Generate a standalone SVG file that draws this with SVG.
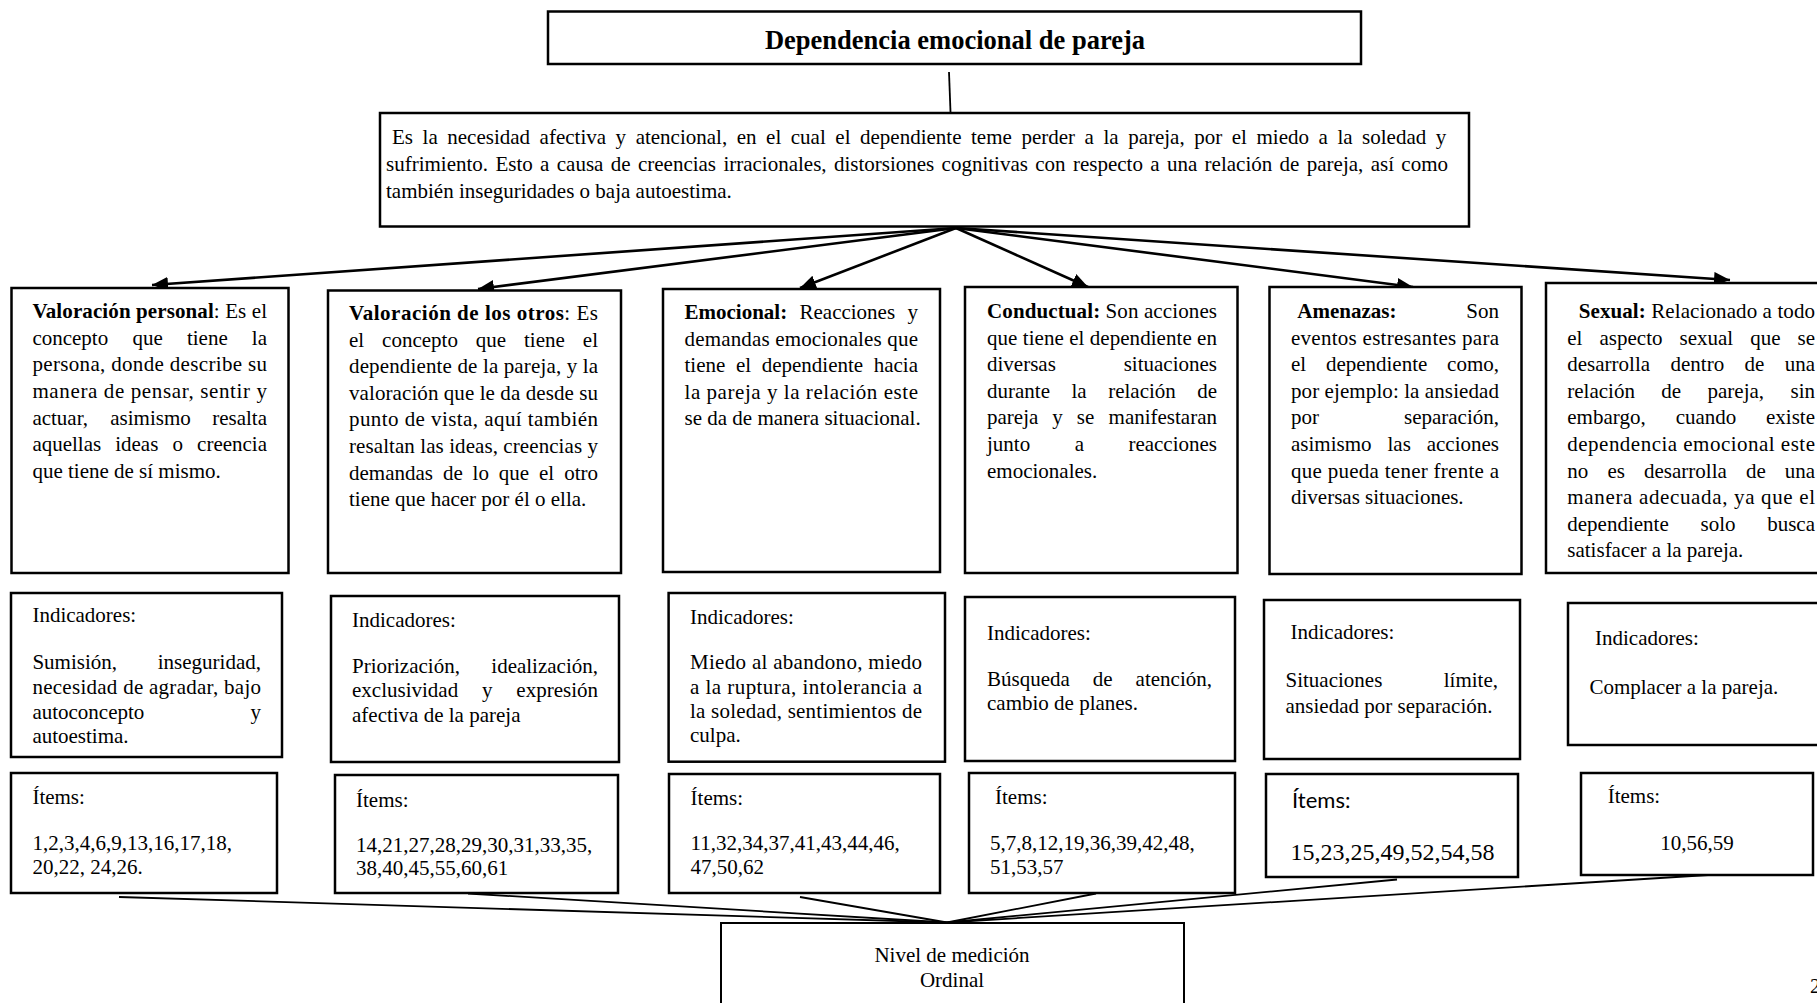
<svg xmlns="http://www.w3.org/2000/svg" width="1817" height="1003" viewBox="0 0 1817 1003">
<style>
text{font-family:"Liberation Serif","Times New Roman",serif;font-size:21px;fill:#000}
.b{font-weight:bold}
.e{text-anchor:end}
.m{text-anchor:middle}
.box{fill:#fff;stroke:#000;stroke-width:2.5}
.arr{stroke:#000;stroke-width:2.6;fill:none}
.ln{stroke:#000;stroke-width:1.8;fill:none}
</style>
<defs>
<marker id="ah" markerUnits="userSpaceOnUse" markerWidth="18" markerHeight="14" refX="16" refY="7" orient="auto">
<path d="M0,0 L16,7 L0,14 Z" fill="#000"/>
</marker>
</defs>
<rect width="1817" height="1003" fill="#fff"/>

<g id="connectors">
<line class="ln" x1="949" y1="72" x2="950.5" y2="112"/>
<line class="arr" x1="956" y1="228" x2="152" y2="285" marker-end="url(#ah)"/>
<line class="arr" x1="956" y1="228" x2="478" y2="289" marker-end="url(#ah)"/>
<line class="arr" x1="956" y1="228" x2="800" y2="288" marker-end="url(#ah)"/>
<line class="arr" x1="956" y1="228" x2="1088" y2="287" marker-end="url(#ah)"/>
<line class="arr" x1="956" y1="228" x2="1413" y2="287" marker-end="url(#ah)"/>
<line class="arr" x1="956" y1="228" x2="1730" y2="280" marker-end="url(#ah)"/>
<line class="ln" x1="119" y1="897" x2="947" y2="922.5"/>
<line class="ln" x1="468" y1="893.5" x2="947" y2="922.5"/>
<line class="ln" x1="800" y1="897" x2="947" y2="922.5"/>
<line class="ln" x1="1096" y1="893.5" x2="947" y2="922.5"/>
<line class="ln" x1="1397" y1="879.5" x2="947" y2="922.5"/>
<line class="ln" x1="1716" y1="874.5" x2="947" y2="922.5"/>
</g>

<g id="title">
<rect class="box" x="548" y="11.5" width="813" height="52.5"/>
<text class="b m" x="955" y="49" style="font-size:26.5px">Dependencia emocional de pareja</text>
</g>

<g id="definicion">
<rect class="box" x="380" y="113" width="1089" height="113.5"/>
<text x="392" y="144" word-spacing="4.3">Es la necesidad afectiva y atencional, en el cual el dependiente teme perder a la pareja, por el miedo a la soledad y</text>
<text x="386" y="171" word-spacing="2.1">sufrimiento. Esto a causa de creencias irracionales, distorsiones cognitivas con respecto a una relación de pareja, así como</text>
<text x="386" y="198">también inseguridades o baja autoestima.</text>
</g>

<g id="valoracion-personal">
<rect class="box" x="11.5" y="288" width="277" height="285"/>
<text x="32.4" y="318" textLength="234.6" lengthAdjust="spacing"><tspan class="b">Valoración personal</tspan>: Es el</text>
<text y="344.7"><tspan x="32.4">concepto</tspan><tspan x="132.4">que</tspan><tspan x="186.9">tiene</tspan></text><text class="e" x="267" y="344.7">la</text>
<text x="32.4" y="371.3" textLength="234.6" lengthAdjust="spacing">persona, donde describe su</text>
<text x="32.4" y="398" textLength="234.6" lengthAdjust="spacing">manera de pensar, sentir y</text>
<text y="424.7"><tspan x="32.4">actuar,</tspan><tspan x="110.3">asimismo</tspan></text><text class="e" x="267" y="424.7">resalta</text>
<text y="451.3"><tspan x="32.4">aquellas</tspan><tspan x="115.2">ideas</tspan><tspan x="172.4">o</tspan></text><text class="e" x="267" y="451.3">creencia</text>
<text x="32.4" y="478">que tiene de sí mismo.</text>
</g>

<g id="valoracion-otros">
<rect class="box" x="328" y="290.5" width="293" height="282.5"/>
<text x="349" y="320" textLength="249" lengthAdjust="spacing"><tspan class="b">Valoración de los otros</tspan>: Es</text>
<text y="346.6"><tspan x="349">el</tspan><tspan x="382.1">concepto</tspan><tspan x="475.8">que</tspan><tspan x="524">tiene</tspan></text><text class="e" x="598" y="346.6">el</text>
<text x="349" y="373.2" textLength="249" lengthAdjust="spacing">dependiente de la pareja, y la</text>
<text x="349" y="399.8" textLength="249" lengthAdjust="spacing">valoración que le da desde su</text>
<text x="349" y="426.4" textLength="249" lengthAdjust="spacing">punto de vista, aquí también</text>
<text x="349" y="453" textLength="249" lengthAdjust="spacing">resaltan las ideas, creencias y</text>
<text y="479.6"><tspan x="349">demandas</tspan><tspan x="442.9">de</tspan><tspan x="472.6">lo</tspan><tspan x="498.8">que</tspan><tspan x="539">el</tspan></text><text class="e" x="598" y="479.6">otro</text>
<text x="349" y="506.2">tiene que hacer por él o ella.</text>
</g>

<g id="emocional">
<rect class="box" x="663" y="289" width="277" height="283"/>
<text y="319"><tspan class="b" x="684.5">Emocional:</tspan><tspan x="799.5">Reacciones</tspan></text><text class="e" x="918" y="319">y</text>
<text x="684.5" y="345.6" textLength="233.5" lengthAdjust="spacing">demandas emocionales que</text>
<text y="372.2"><tspan x="684.5">tiene</tspan><tspan x="735.9">el</tspan><tspan x="761.7">dependiente</tspan></text><text class="e" x="918" y="372.2">hacia</text>
<text x="684.5" y="398.8" textLength="233.5" lengthAdjust="spacing">la pareja y la relación este</text>
<text x="684.5" y="425.4">se da de manera situacional.</text>
</g>

<g id="conductual">
<rect class="box" x="965" y="287" width="272.5" height="286"/>
<text x="987" y="318" textLength="230" lengthAdjust="spacing"><tspan class="b">Conductual:</tspan> Son acciones</text>
<text x="987" y="344.6" textLength="230" lengthAdjust="spacing">que tiene el dependiente en</text>
<text x="987" y="371.2">diversas</text><text class="e" x="1217" y="371.2">situaciones</text>
<text y="397.8"><tspan x="987">durante</tspan><tspan x="1071.5">la</tspan><tspan x="1108.2">relación</tspan></text><text class="e" x="1217" y="397.8">de</text>
<text y="424.4"><tspan x="987">pareja</tspan><tspan x="1052.3">y</tspan><tspan x="1076.8">se</tspan></text><text class="e" x="1217" y="424.4">manifestaran</text>
<text y="451"><tspan x="987">junto</tspan><tspan x="1074.7">a</tspan></text><text class="e" x="1217" y="451">reacciones</text>
<text x="987" y="477.6">emocionales.</text>
</g>

<g id="amenazas">
<rect class="box" x="1269.5" y="287" width="252" height="287"/>
<text class="b" x="1297.3" y="318">Amenazas:</text><text class="e" x="1499" y="318">Son</text>
<text x="1291" y="344.6" textLength="208" lengthAdjust="spacing">eventos estresantes para</text>
<text y="371.2"><tspan x="1291">el</tspan><tspan x="1325.9">dependiente</tspan></text><text class="e" x="1499" y="371.2">como,</text>
<text x="1291" y="397.8" textLength="208" lengthAdjust="spacing">por ejemplo: la ansiedad</text>
<text x="1291" y="424.4">por</text><text class="e" x="1499" y="424.4">separación,</text>
<text y="451"><tspan x="1291">asimismo</tspan><tspan x="1387.5">las</tspan></text><text class="e" x="1499" y="451">acciones</text>
<text x="1291" y="477.6" textLength="208" lengthAdjust="spacing">que pueda tener frente a</text>
<text x="1291" y="504.2">diversas situaciones.</text>
</g>

<g id="sexual">
<rect class="box" x="1546" y="283" width="290" height="290"/>
<text x="1578.7" y="318" textLength="236.3" lengthAdjust="spacing"><tspan class="b">Sexual:</tspan> Relacionado a todo</text>
<text y="344.6"><tspan x="1567.3">el</tspan><tspan x="1599.5">aspecto</tspan><tspan x="1679.5">sexual</tspan><tspan x="1750.2">que</tspan></text><text class="e" x="1815" y="344.6">se</text>
<text y="371.2"><tspan x="1567.3">desarrolla</tspan><tspan x="1670.5">dentro</tspan><tspan x="1744.6">de</tspan></text><text class="e" x="1815" y="371.2">una</text>
<text y="397.8"><tspan x="1567.3">relación</tspan><tspan x="1661.3">de</tspan><tspan x="1707.5">pareja,</tspan></text><text class="e" x="1815" y="397.8">sin</text>
<text y="424.4"><tspan x="1567.3">embargo,</tspan><tspan x="1675.7">cuando</tspan></text><text class="e" x="1815" y="424.4">existe</text>
<text x="1567.3" y="451" textLength="247.7" lengthAdjust="spacing">dependencia emocional este</text>
<text y="477.6"><tspan x="1567.3">no</tspan><tspan x="1607.4">es</tspan><tspan x="1644">desarrolla</tspan><tspan x="1745.9">de</tspan></text><text class="e" x="1815" y="477.6">una</text>
<text x="1567.3" y="504.2" textLength="247.7" lengthAdjust="spacing">manera adecuada, ya que el</text>
<text y="530.8"><tspan x="1567.3">dependiente</tspan><tspan x="1700.5">solo</tspan></text><text class="e" x="1815" y="530.8">busca</text>
<text x="1567.3" y="557.4">satisfacer a la pareja.</text>
</g>

<g id="indicadores-1">
<rect class="box" x="11" y="593" width="271" height="164"/>
<text x="32.4" y="622">Indicadores:</text>
<text x="32.4" y="668.7">Sumisión,</text><text class="e" x="261" y="668.7">inseguridad,</text>
<text x="32.4" y="693.7" textLength="228.6" lengthAdjust="spacing">necesidad de agradar, bajo</text>
<text x="32.4" y="718.7">autoconcepto</text><text class="e" x="261" y="718.7">y</text>
<text x="32.4" y="743">autoestima.</text>
</g>

<g id="indicadores-2">
<rect class="box" x="331" y="596" width="288" height="166"/>
<text x="352" y="627">Indicadores:</text>
<text x="352" y="673">Priorización,</text><text class="e" x="598" y="673">idealización,</text>
<text y="697"><tspan x="352">exclusividad</tspan><tspan x="482">y</tspan></text><text class="e" x="598" y="697">expresión</text>
<text x="352" y="722">afectiva de la pareja</text>
</g>

<g id="indicadores-3">
<rect class="box" x="668.6" y="593" width="276.4" height="168.7"/>
<text x="690" y="623.7">Indicadores:</text>
<text x="690" y="668.7" textLength="232" lengthAdjust="spacing">Miedo al abandono, miedo</text>
<text x="690" y="693.7" textLength="232" lengthAdjust="spacing">a la ruptura, intolerancia a</text>
<text x="690" y="718" textLength="232" lengthAdjust="spacing">la soledad, sentimientos de</text>
<text x="690" y="742">culpa.</text>
</g>

<g id="indicadores-4">
<rect class="box" x="965" y="597" width="270" height="164"/>
<text x="987" y="639.7">Indicadores:</text>
<text y="686"><tspan x="987">Búsqueda</tspan><tspan x="1092.8">de</tspan></text><text class="e" x="1212" y="686">atención,</text>
<text x="987" y="710">cambio de planes.</text>
</g>

<g id="indicadores-5">
<rect class="box" x="1264" y="600" width="256" height="159"/>
<text x="1290.5" y="638.7">Indicadores:</text>
<text x="1285.5" y="687">Situaciones</text><text class="e" x="1498" y="687">límite,</text>
<text x="1285.5" y="713">ansiedad por separación.</text>
</g>

<g id="indicadores-6">
<rect class="box" x="1568" y="603" width="260" height="142"/>
<text x="1595" y="645">Indicadores:</text>
<text x="1589.4" y="694">Complacer a la pareja.</text>
</g>

<g id="items-1">
<rect class="box" x="11" y="773" width="266" height="120"/>
<text x="32.4" y="803.7">Ítems:</text>
<text x="32.4" y="850">1,2,3,4,6,9,13,16,17,18,</text>
<text x="32.4" y="873.7">20,22, 24,26.</text>
</g>

<g id="items-2">
<rect class="box" x="335" y="775" width="283" height="118"/>
<text x="356" y="807">Ítems:</text>
<text x="356" y="852">14,21,27,28,29,30,31,33,35,</text>
<text x="356" y="875">38,40,45,55,60,61</text>
</g>

<g id="items-3">
<rect class="box" x="669" y="774" width="271" height="119"/>
<text x="690.6" y="805">Ítems:</text>
<text x="690.6" y="850">11,32,34,37,41,43,44,46,</text>
<text x="690.6" y="874">47,50,62</text>
</g>

<g id="items-4">
<rect class="box" x="969" y="773" width="266" height="120"/>
<text x="995" y="804">Ítems:</text>
<text x="990" y="850">5,7,8,12,19,36,39,42,48,</text>
<text x="990" y="874">51,53,57</text>
</g>

<g id="items-5">
<rect class="box" x="1266" y="774" width="252" height="103"/>
<text x="1292" y="808" style="font-family:Lato,'Open Sans',sans-serif;font-size:22px">Ítems:</text>
<text x="1290.5" y="860" style="font-size:24px">15,23,25,49,52,54,58</text>
</g>

<g id="items-6">
<rect class="box" x="1581" y="773" width="232" height="102"/>
<text x="1607.7" y="803">Ítems:</text>
<text class="m" x="1697" y="850">10,56,59</text>
</g>

<g id="nivel-medicion">
<rect class="box" x="721" y="923" width="463" height="95" style="stroke-width:2"/>
<text class="m" x="952" y="962">Nivel de medición</text>
<text class="m" x="952" y="987">Ordinal</text>
</g>

<text x="1810" y="993">2</text>
</svg>
